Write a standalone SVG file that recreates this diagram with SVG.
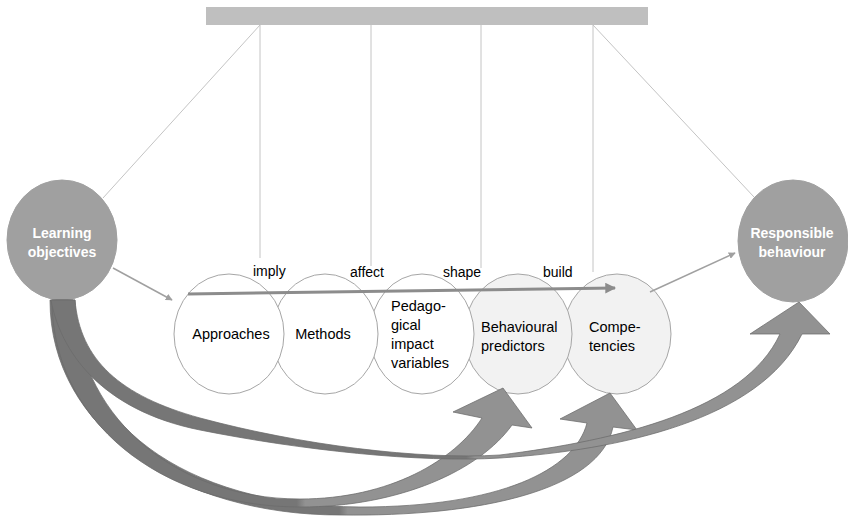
<svg xmlns="http://www.w3.org/2000/svg" width="848" height="517" viewBox="0 0 848 517">
<defs>
<style>
.str{stroke:#c4c4c4;stroke-width:1;fill:none}
.big{fill:#a0a0a0;stroke:#a0a0a0;stroke-width:1}
.sm{stroke:#a6a6a6;stroke-width:1}
.wt{fill:#ffffff}
.lt{fill:#f2f2f2}
.bt{font-family:"Liberation Sans",Arial,sans-serif;font-size:14px;font-weight:bold;fill:#ffffff;text-anchor:middle}
.nt{font-family:"Liberation Sans",Arial,sans-serif;font-size:14.5px;fill:#000000}
.lb{font-family:"Liberation Sans",Arial,sans-serif;font-size:14px;fill:#000000}
.thin{stroke:#a0a0a0;stroke-width:1.5;fill:none}
.band{stroke:#6b6b6b;stroke-width:0.75}
</style>
<marker id="ah" viewBox="0 0 10 10" refX="9" refY="5" markerWidth="7" markerHeight="7" markerUnits="userSpaceOnUse" orient="auto">
<path d="M0,0 L10,5 L0,10 Z" fill="#a0a0a0"/>
</marker>
<marker id="ah2" viewBox="0 0 10 10" refX="9" refY="5" markerWidth="4" markerHeight="3.6" orient="auto">
<path d="M0,0 L10,5 L0,10 Z" fill="#8c8c8c"/>
</marker>
<linearGradient id="gB" gradientUnits="userSpaceOnUse" x1="0" y1="0" x2="848" y2="0">
<stop offset="0" stop-color="#767676"/><stop offset="0.35" stop-color="#767676"/><stop offset="0.36" stop-color="#929292"/><stop offset="1" stop-color="#929292"/>
</linearGradient>
<linearGradient id="gC" gradientUnits="userSpaceOnUse" x1="0" y1="0" x2="848" y2="0">
<stop offset="0" stop-color="#767676"/><stop offset="0.40" stop-color="#767676"/><stop offset="0.41" stop-color="#929292"/><stop offset="1" stop-color="#929292"/>
</linearGradient>
<linearGradient id="gR" gradientUnits="userSpaceOnUse" x1="0" y1="0" x2="848" y2="0">
<stop offset="0" stop-color="#767676"/><stop offset="0.55" stop-color="#767676"/><stop offset="0.56" stop-color="#929292"/><stop offset="1" stop-color="#929292"/>
</linearGradient>
</defs>
<rect width="848" height="517" fill="#ffffff"/>

<g id="frame">
<rect x="206" y="7" width="442" height="18" fill="#bfbfbf"/>
<line class="str" x1="260" y1="25" x2="103" y2="198"/>
<line class="str" x1="593" y1="25" x2="754" y2="197"/>
<line class="str" x1="260" y1="25" x2="260" y2="258"/>
<line class="str" x1="371" y1="25" x2="371" y2="266"/>
<line class="str" x1="481" y1="25" x2="481" y2="268"/>
<line class="str" x1="593" y1="25" x2="593" y2="272"/>
</g>

<g id="node-competencies">
<ellipse class="sm lt" cx="617" cy="334" rx="54" ry="60"/>
<text class="nt" x="589" y="332">Compe-</text>
<text class="nt" x="589" y="351">tencies</text>
</g>
<g id="node-behavioural-predictors">
<ellipse class="sm lt" cx="518" cy="334" rx="54" ry="60"/>
<text class="nt" x="481" y="332">Behavioural</text>
<text class="nt" x="481" y="351">predictors</text>
</g>
<g id="node-pedagogical-impact-variables">
<ellipse class="sm wt" cx="422" cy="334" rx="52" ry="60"/>
<text class="nt" x="391" y="311">Pedago-</text>
<text class="nt" x="391" y="330">gical</text>
<text class="nt" x="391" y="349">impact</text>
<text class="nt" x="391" y="368">variables</text>
</g>
<g id="node-methods">
<ellipse class="sm wt" cx="325" cy="334" rx="53" ry="60"/>
<text class="nt" x="323" y="339" text-anchor="middle">Methods</text>
</g>
<g id="node-approaches">
<ellipse class="sm wt" cx="229" cy="334" rx="55" ry="60"/>
<text class="nt" x="231" y="339" text-anchor="middle">Approaches</text>
</g>

<g id="node-learning-objectives">
<ellipse class="big" cx="62" cy="240" rx="55" ry="60"/>
<text class="bt" x="62" y="238">Learning</text>
<text class="bt" x="62" y="257">objectives</text>
</g>
<g id="node-responsible-behaviour">
<ellipse class="big" cx="793" cy="241" rx="55" ry="61"/>
<text class="bt" x="792" y="238">Responsible</text>
<text class="bt" x="792" y="257">behaviour</text>
</g>

<g id="connectors">
<path class="band" fill="url(#gC)" d="M50,300 C50,430 180,515 340,515 C480,517 600,490 613,427 L637,430 L610,393 L560,419 L587,423 C575,470 500,507 360,507 C180,506 73,420 73,300 Z"/>
<path class="band" fill="url(#gB)" d="M52,300 C52,420 160,507 300,507 C400,507 480,470 512,425 L532,428 L503,388 L453,412 L482,418 C455,460 390,499 300,499 C170,499 75,410 75,300 Z"/>
<path class="band" fill="url(#gR)" d="M51,300 C60,350 100,410 200,430 C300,450 420,463 500,458 C620,450 760,420 802,334 L830,334 L799,302 L750,334 L780,334 C745,410 620,440 500,455 C420,460 300,445 200,418 C120,396 80,360 75,300 Z"/>
<line class="thin" x1="113" y1="268" x2="172" y2="300" marker-end="url(#ah)"/>
<line class="thin" x1="650" y1="292" x2="735" y2="253" marker-end="url(#ah)"/>
<line x1="188" y1="294" x2="615" y2="288" stroke="#8c8c8c" stroke-width="3" marker-end="url(#ah2)"/>
<text class="lb" x="253" y="276">imply</text>
<text class="lb" x="350" y="277">affect</text>
<text class="lb" x="443" y="277">shape</text>
<text class="lb" x="543" y="277">build</text>
</g>
</svg>
